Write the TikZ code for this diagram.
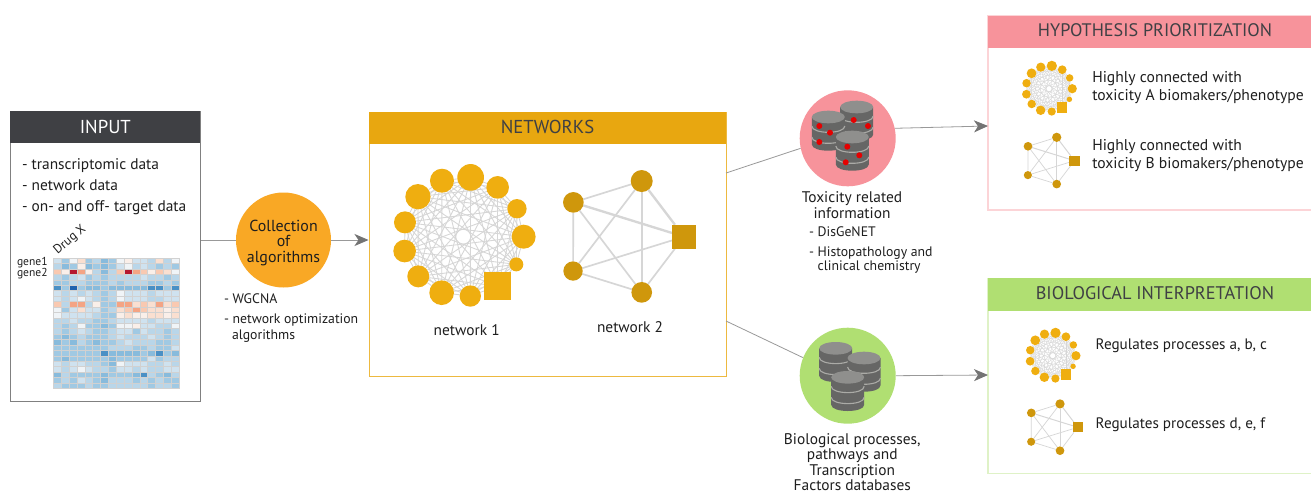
\documentclass[tikz,border=0pt]{standalone}
\usepackage{fontspec}
\setmainfont[Scale=1.1]{PT Sans}
\usetikzlibrary{arrows.meta}
\pgfdeclarelayer{edges}
\pgfsetlayers{edges,main}
\definecolor{txt}{HTML}{1E1E1E}
\definecolor{darkhd}{HTML}{3F4044}
\definecolor{gold}{HTML}{E8A710}
\definecolor{netA}{HTML}{EFAE10}
\definecolor{netB}{HTML}{CF970C}
\definecolor{orangeC}{HTML}{F9A825}
\definecolor{pinkC}{HTML}{F7939B}
\definecolor{greenC}{HTML}{B0DF72}
\definecolor{edgeC}{HTML}{D6D6D6}
\definecolor{cylD}{HTML}{666665}
\definecolor{cylT}{HTML}{8F8F8D}
\definecolor{cylB}{HTML}{ABABA7}
\definecolor{hma}{HTML}{F0F4F7}
\definecolor{hmb}{HTML}{CFE2EF}
\definecolor{hmc}{HTML}{B9D6E9}
\definecolor{hmd}{HTML}{A0C9E3}
\definecolor{hme}{HTML}{88BBDC}
\definecolor{hmf}{HTML}{4A90C5}
\definecolor{hmg}{HTML}{1F62AE}
\definecolor{hmh}{HTML}{FADFD0}
\definecolor{hmi}{HTML}{F9C9B1}
\definecolor{hmj}{HTML}{F4A484}
\definecolor{hmk}{HTML}{B5172F}
\definecolor{hml}{HTML}{FAEFE9}
\newcommand{\fs}[1]{\fontsize{#1}{#1}\selectfont}
\tikzset{
  x=1pt,y=-1pt,
  lbl/.style={inner sep=0pt,outer sep=0pt,text=txt,font=\fs{#1}},
  lbl/.default=14,
  boxframe/.style={rectangle,inner sep=0pt,line width=1pt},
  header/.style={rectangle,inner sep=0pt},
  bubble/.style={circle,inner sep=0pt,minimum size=96pt},
  conn/.style={draw=black!40,line width=.8pt},
  connarrow/.style={conn,-{Stealth[length=14pt,width=12pt,inset=4pt,color=black!55]}},
  ncirc/.style={circle,inner sep=0pt,outer sep=0pt,fill=#1},
  nsq/.style={rectangle,inner sep=0pt,outer sep=0pt,fill=#1},
  nedge/.style={draw=edgeC},
}
\newcommand{\NetOne}[3]{%
 \begin{scope}[shift={(#2)}]
  \foreach \i/\dx/\dy/\r in {1/22/-178/40,2/-64/-168/36,3/-136/-120/38,4/-175/-43/33,5/-176/43/34,6/-135/119/33,7/-65/168/37,8/21/178/32,10/159/83/21,11/181/0/36,12/161/-84/29,13/103/-148/34}{
    \node[ncirc=netA,minimum size={2*\r*#3}] (#1\i) at ({\dx*#3},{\dy*#3}) {};
  }
  \node[nsq=netA,minimum size={82*#3}] (#19) at ({103*#3},{148*#3}) {};
  \begin{pgfonlayer}{edges}
  \foreach \a in {1,...,12}{
    \pgfmathtruncatemacro\st{\a+1}
    \foreach \b in {\st,...,13}{
      \draw[nedge,line width={2.6*#3}] (#1\a) -- (#1\b);
    }
  }
  \end{pgfonlayer}
 \end{scope}}
\newcommand{\NetTwo}[3]{%
 \begin{scope}[shift={(#2)}]
  \foreach \i/\dx/\dy/\r in {1/0/-167/33,2/-205/-103/31,3/-206/103/29,4/0/167/31}{
    \node[ncirc=netB,minimum size={2*\r*#3}] (#1\i) at ({\dx*#3},{\dy*#3}) {};
  }
  \node[nsq=netB,minimum size={72*#3}] (#15) at ({127*#3},0) {};
  \begin{pgfonlayer}{edges}
  \foreach \a/\b/\w in {1/2/5,1/3/5,1/4/5,1/5/7,2/3/5,2/4/5,2/5/7,3/4/5,3/5/5,4/5/5}{
      \draw[nedge,line width={\w*#3}] (#1\a) -- (#1\b);
  }
  \end{pgfonlayer}
 \end{scope}}
\newcommand{\DbCyl}[2]{%
 \begin{scope}[shift={(#1,#2)}]
  \fill[cylD] (-16.5,0) -- (-16.5,27.4) .. controls (-16.5,35.8) and (16.5,35.8) .. (16.5,27.4) -- (16.5,0) -- cycle;
  \foreach \b in {9,20}{
    \draw[cylB,line width=1.1pt] (-16.5,\b) .. controls (-16.5,{\b+8.4}) and (16.5,{\b+8.4}) .. (16.5,\b);
  }
  \fill[cylT] (0,0) ellipse [x radius=16.5,y radius=6.3];
 \end{scope}}
\begin{document}
\begin{tikzpicture}
\useasboundingbox (0,0) rectangle (1311,493);
\begin{pgfonlayer}{edges}
\fill[white] (0,0) rectangle (1311,493);
\end{pgfonlayer}

% input
\node[boxframe,draw=black!50,minimum width=190pt,minimum height=290pt] (input) at (105.3,256.2) {};
\node[header,fill=darkhd,minimum width=190pt,minimum height=32.5pt] (inputh) at (105.3,127) {};
\node[lbl=17,text=white] (inputt) at (105.3,127) {INPUT};
\node[lbl=14,anchor=base west] (t1) at (22,169) {- transcriptomic data};
\node[lbl=14,anchor=base west] (t2) at (22,190) {- network data};
\node[lbl=14,anchor=base west] (t3) at (22,211) {- on- and off- target data};
\node[lbl=11.5,rotate=40] (drug) at (70,240) {Drug X};
\node[lbl=10.5,anchor=base west] (g1) at (17,265) {gene1};
\node[lbl=10.5,anchor=base west] (g2) at (17,276.5) {gene2};
\begin{scope}[shift={(53.3,258)}]
\foreach \row [count=\yy from 0] in {
{b,d,a,h,d,c,e,d,a,l,b,b,c,h,c,a},
{c,e,d,l,e,d,e,d,b,a,c,b,c,d,c,d},
{i,l,k,j,l,c,e,c,i,k,j,i,l,i,h,a},
{c,d,c,b,d,c,d,c,c,c,c,b,c,c,d,c},
{d,d,c,c,d,d,d,c,d,c,c,c,d,d,c,d},
{f,d,g,d,e,e,d,e,e,e,e,e,f,f,d,f},
{b,c,b,c,b,c,d,c,a,b,b,b,c,b,b,b},
{b,c,b,a,b,c,d,c,a,b,b,b,c,c,b,b},
{i,c,j,j,c,l,d,d,j,j,h,i,h,j,h,i},
{a,d,b,h,b,b,d,c,h,i,j,i,h,h,l,h},
{a,b,b,b,b,c,d,d,l,h,l,l,h,h,l,h},
{c,c,b,c,c,d,d,c,b,b,b,b,c,b,b,b},
{c,d,c,a,d,d,e,d,a,a,l,b,b,c,c,a},
{c,d,c,b,c,d,d,c,b,b,d,b,c,c,d,c},
{d,e,d,c,d,d,d,c,b,c,c,c,b,c,d,c},
{e,d,e,c,d,e,d,d,c,b,c,c,c,d,d,c},
{d,d,d,d,d,d,d,c,c,c,d,d,c,d,d,b},
{d,d,d,d,d,d,f,e,e,e,e,d,e,f,d,e},
{d,e,d,d,d,d,d,e,d,d,d,d,b,d,c,c},
{b,c,b,b,c,c,d,e,a,b,b,b,c,c,b,c},
{b,c,b,a,b,c,c,d,b,b,c,b,c,c,b,b},
{e,c,d,d,d,d,e,d,d,d,e,f,c,d,e,c},
{d,c,d,b,c,d,e,c,c,c,d,c,d,c,d,d},
{c,d,d,d,c,d,d,c,c,c,c,c,d,c,c,d}}{
  \foreach \c [count=\xx from 0] in \row {
    \draw[black!18,line width=.25pt,fill=hm\c] ({\xx*7.85},{\yy*5.43}) rectangle ++(7.85,5.43);
  }
}
\end{scope}

% collection
\node[bubble,fill=orangeC,minimum size=95pt] (coll) at (283.5,240) {};
\node[lbl=14.5,anchor=base] (c1) at (283.5,231) {Collection};
\node[lbl=14.5,anchor=base] (c2) at (283.5,246.5) {of};
\node[lbl=14.5,anchor=base] (c3) at (283.5,262) {algorithms};
\node[lbl=12.5,anchor=base west] (w1) at (224,303) {- WGCNA};
\node[lbl=12.5,anchor=base west] (w2) at (224,323) {- network optimization};
\node[lbl=12.5,anchor=base west] (w3) at (232,339) {algorithms};

% networks
\node[boxframe,draw=gold!80,minimum width=357pt,minimum height=264pt] (nets) at (547.5,244) {};
\node[header,fill=gold,minimum width=357pt,minimum height=32pt] (netsh) at (547.5,128) {};
\node[lbl=17,text=darkhd] (netst) at (547.5,127) {NETWORKS};
\NetOne{a}{463.3,236.7}{.3333}
\NetTwo{b}{641.7,236.7}{.3333}
\node[lbl=14,anchor=base] (n1l) at (466.7,335) {network 1};
\node[lbl=14,anchor=base] (n2l) at (630,332.5) {network 2};

% toxicity
\node[bubble,fill=pinkC] (tox) at (847.7,138.3) {};
\DbCyl{856.7}{107}
\DbCyl{828.3}{117}
\DbCyl{852.3}{137}
\foreach \i/\x/\y in {1/819.3/126,2/830/132.7,3/819.3/142,4/853.7/120,5/868/126,6/847.3/146.7,7/859.3/155.3,8/845.7/162.3}{
  \node[ncirc=red!90!black,minimum size=6pt] (dot\i) at (\x,\y) {};
}
\node[lbl=14,anchor=base] (tx1) at (852,202) {Toxicity related};
\node[lbl=14,anchor=base] (tx1b) at (852,218) {information};
\node[lbl=12.5,anchor=base west] (tx2) at (809,236) {- DisGeNET};
\node[lbl=12.5,anchor=base west] (tx3) at (809,256) {- Histopathology and};
\node[lbl=12.5,anchor=base west] (tx4) at (817.7,270) {clinical chemistry};

% biological
\node[bubble,fill=greenC] (bio) at (847.7,375.7) {};
\DbCyl{835.7}{348.3}
\DbCyl{864}{358}
\DbCyl{847.7}{377.3}
\node[lbl=14,anchor=base] (bi1) at (852.3,444) {Biological processes,};
\node[lbl=14,anchor=base] (bi2) at (852.3,459.5) {pathways and};
\node[lbl=14,anchor=base] (bi3) at (852.3,475) {Transcription};
\node[lbl=14,anchor=base] (bi4) at (852.3,490.5) {Factors databases};

% hypothesis box
\node[boxframe,draw=pinkC!40,minimum width=324pt,minimum height=194.5pt,line width=1.2pt] (hyp) at (1150,112.7) {};
\node[header,fill=pinkC,minimum width=324pt,minimum height=32pt] (hyph) at (1150,31.7) {};
\node[lbl=16.5,text=darkhd] (hypt) at (1155,30.5) {HYPOTHESIS PRIORITIZATION};
\NetOne{c}{1049,88.7}{.1283}
\NetTwo{d}{1056.7,160.7}{.14}
\node[lbl=14.2,anchor=base west] (h1) at (1092.3,82) {Highly connected with};
\node[lbl=14.2,anchor=base west] (h2) at (1092.3,100) {toxicity A biomakers/phenotype};
\node[lbl=14.2,anchor=base west] (h3) at (1092.3,150.5) {Highly connected with};
\node[lbl=14.2,anchor=base west] (h4) at (1092.3,168.5) {toxicity B biomakers/phenotype};

% interpretation box
\node[boxframe,draw=greenC!40,minimum width=324pt,minimum height=195pt,line width=1.2pt] (int) at (1150,375.8) {};
\node[header,fill=greenC,minimum width=324pt,minimum height=32.7pt] (inth) at (1150,294.7) {};
\node[lbl=16.6,text=darkhd] (intt) at (1155,293) {BIOLOGICAL INTERPRETATION};
\NetOne{e}{1052.7,355.7}{.1283}
\NetTwo{f}{1060,427.3}{.14}
\node[lbl=13.8,anchor=base west] (r1) at (1095.7,349) {Regulates processes a, b, c};
\node[lbl=13.8,anchor=base west] (r2) at (1095.7,428) {Regulates processes d, e, f};

% connectors
\coordinate (nout1) at (726,173);
\coordinate (nout2) at (726,321);
\coordinate (hin) at (988,126);
\coordinate (iin) at (988,375);
\draw[conn] (input.east |- coll) -- (coll);
\draw[connarrow] (coll) -- (nets.west |- coll);
\draw[conn] (nout1) -- (tox.192);
\draw[conn] (nout2) -- (bio.158);
\draw[connarrow] (tox.12) -- (hin);
\draw[connarrow] (bio.0) -- (iin);
\end{tikzpicture}
\end{document}
